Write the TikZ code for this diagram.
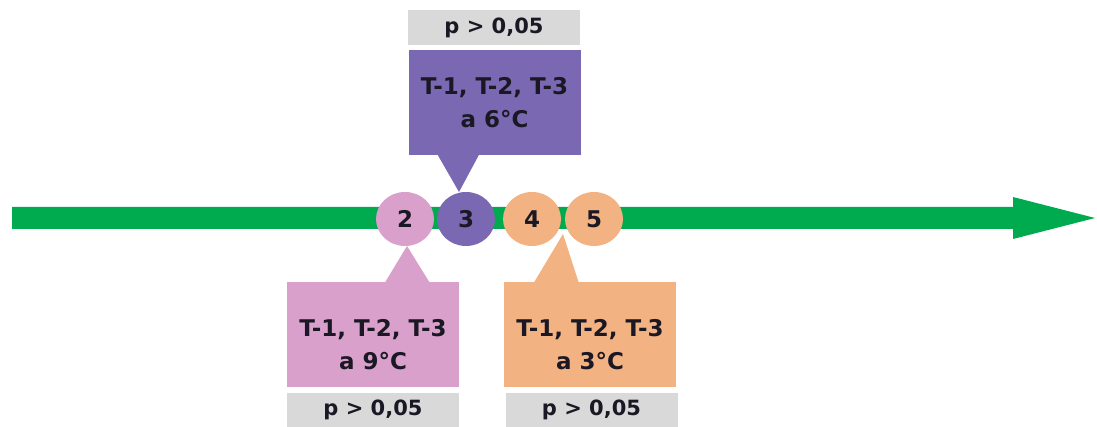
\documentclass[tikz,border=0pt]{standalone}
\usepackage{fontspec}
\setmainfont{DejaVu Sans}
\usetikzlibrary{shapes.geometric,calc}
\definecolor{arrowgreen}{RGB}{0,170,79}
\definecolor{violetfill}{RGB}{123,104,178}
\definecolor{pinkfill}{RGB}{218,160,204}
\definecolor{peachfill}{RGB}{242,178,130}
\definecolor{pgray}{RGB}{217,217,217}
\definecolor{ink}{RGB}{26,24,36}
\tikzset{
  stage/.style={ellipse, minimum width=58pt, minimum height=54pt, inner sep=0pt,
    text=ink, font=\bfseries\fontsize{23}{23}\selectfont},
  infobox/.style={rectangle, minimum width=172pt, minimum height=105pt, inner sep=0pt},
  infotext/.style={align=center, inner sep=0pt, text=ink,
    font=\bfseries\fontsize{23}{33}\selectfont},
  pbox/.style={rectangle, fill=pgray, minimum width=172pt, minimum height=35pt, inner sep=0pt,
    text=ink, font=\bfseries\fontsize{21}{21}\selectfont},
}
\begin{document}
\begin{tikzpicture}[x=1pt,y=-1pt]
\useasboundingbox (0,0) rectangle (1097,427);

% time axis
\coordinate (axstart) at (12,218);
\coordinate (axtip) at (1095,218);
\fill[arrowgreen] ($(axstart)+(0,-11)$) -- ($(axtip)+(-82,-11)$) -- ($(axtip)+(-82,-21)$)
  -- (axtip) -- ($(axtip)+(-82,21)$) -- ($(axtip)+(-82,11)$) -- ($(axstart)+(0,11)$) -- cycle;

% stages on the axis
\node[stage, fill=pinkfill] (c2) at (405,219) {2};
\node[stage, fill=violetfill] (c3) at (466,219) {3};
\node[stage, fill=peachfill] (c4) at (532,219) {4};
\node[stage, fill=peachfill] (c5) at (594,219) {5};

% upper callout (6 °C)
\node[pbox] (p3) at (494,28) {p > 0,05};
\node[infobox, fill=violetfill] (b3) at (494.5,102.5) {};
\node[infotext] (b3txt) at (b3.center) {T-1, T-2, T-3\\a 6°C};
\coordinate (t3) at (459,192);
\fill[violetfill] ($(b3.south west)+(29,-1)$) -- (t3) -- ($(b3.south west)+(71,-1)$) -- cycle;

% lower left callout (9 °C)
\node[infobox, fill=pinkfill] (b2) at (373,334.5) {};
\node[infotext] (b2txt) at ($(b2.center)+(0,10)$) {T-1, T-2, T-3\\a 9°C};
\node[pbox] (p2) at (373,410) {p > 0,05};
\coordinate (t2) at (407,246);
\fill[pinkfill] ($(b2.north west)+(98,1)$) -- (t2) -- ($(b2.north west)+(143,1)$) -- cycle;

% lower right callout (3 °C)
\node[infobox, fill=peachfill] (b45) at (590,334.5) {};
\node[infotext] (b45txt) at ($(b45.center)+(0,10)$) {T-1, T-2, T-3\\a 3°C};
\node[pbox] (p45) at (591.5,410) {p > 0,05};
\coordinate (t45) at (563,234);
\fill[peachfill] ($(b45.north west)+(30,1)$) -- (t45) -- ($(b45.north west)+(75,1)$) -- cycle;
\end{tikzpicture}
\end{document}
